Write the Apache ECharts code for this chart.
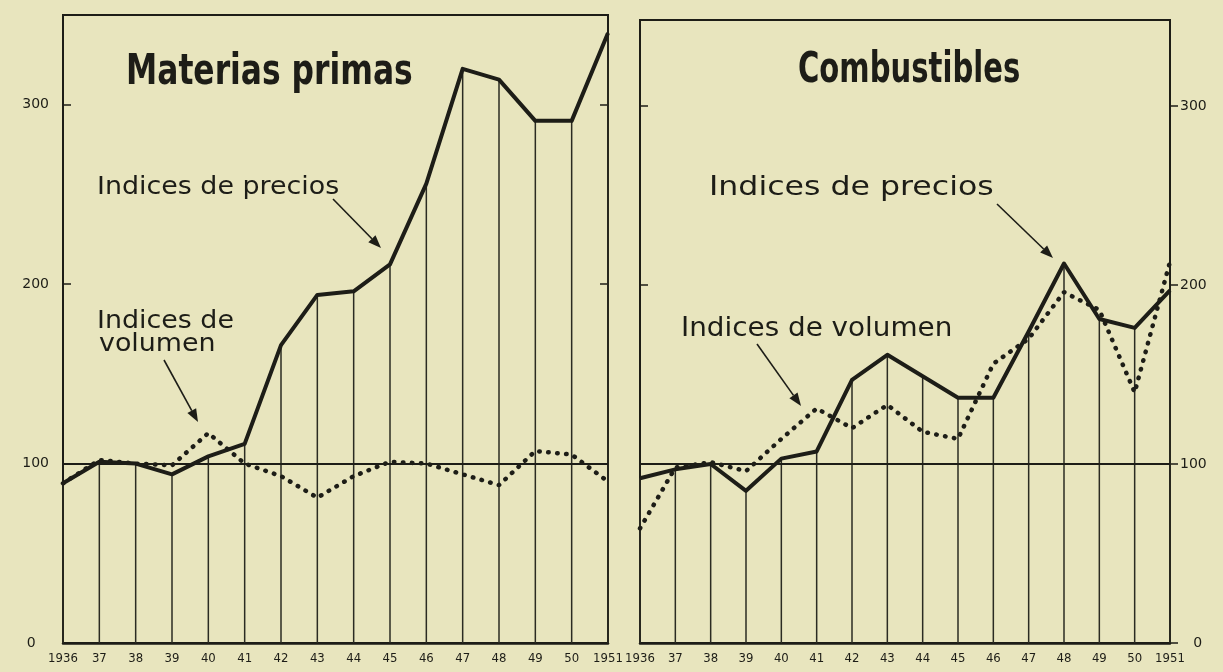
<!DOCTYPE html>
<html>
<head>
<meta charset="utf-8">
<title>Materias primas / Combustibles</title>
<script src="https://cdn.jsdelivr.net/npm/echarts@6/dist/echarts.min.js"></script>
<style>
html, body { margin: 0; padding: 0; background: #e8e5be; }
#main { width: 1223px; height: 672px; }
</style>
</head>
<body>
<div id="main"></div>
<script>
// datos (indices, 1936-37 = 100)
var years = ['1936', '37', '38', '39', '40', '41', '42', '43', '44', '45', '46', '47', '48', '49', '50', '1951'];
var mpPrecios = [89, 101, 100, 94, 104, 111, 166, 194, 196, 211, 256, 320, 314, 291, 291, 340];
var mpVolumen = [89, 102, 100, 99, 117, 100, 93, 81, 93, 101, 100, 94, 88, 107, 105, 90];
var coPrecios = [92, 97, 100, 85, 103, 107, 147, 161, 149, 137, 137, 174, 212, 181, 176, 197];
var coVolumen = [64, 98, 101, 96, 114, 131, 120, 133, 118, 114, 156, 170, 196, 186, 140, 213];
var yTicks = [100, 200, 300];

var ink = '#1d1d17';
var bg = '#e8e5be';
var titleFont = "bold 42px 'DejaVu Sans Condensed', 'DejaVu Sans', sans-serif";
var noteFont = "'DejaVu Sans', sans-serif";

var myChart = echarts.init(document.getElementById('main'));

function yAxisDef(gridIndex, position, showLabel, tickInside, max) {
	return {
		type: 'value',
		gridIndex: gridIndex,
		position: position,
		min: 0,
		max: max,
		interval: 100,
		axisLine: { show: false },
		splitLine: { show: false },
		axisTick: {
			show: true,
			inside: tickInside,
			length: 8,
			lineStyle: { color: ink, width: 1.5 }
		},
		axisLabel: {
			show: showLabel,
			showMaxLabel: false,
			margin: position == 'left' ? 14 : 10,
			color: ink,
			fontFamily: noteFont,
			fontSize: 14,
			formatter: function (v) {
				if (v === 0) return position == 'left' ? '0   ' : '   0';
				return yTicks.indexOf(v) >= 0 ? String(v) : '';
			}
		}
	};
}

function xAxisDef(gridIndex) {
	return {
		type: 'category',
		gridIndex: gridIndex,
		data: years,
		boundaryGap: false,
		axisLine: { show: true, lineStyle: { color: ink, width: 2.5 } },
		axisTick: { show: false },
		splitLine: { show: false },
		axisLabel: {
			interval: 0,
			margin: 9,
			color: ink,
			fontFamily: "'DejaVu Sans Condensed', sans-serif",
			fontSize: 13
		}
	};
}

// barras finas = lineas verticales de cada año hasta la curva de precios
function dropLines(xi, yi, data) {
	return {
		type: 'bar',
		xAxisIndex: xi,
		yAxisIndex: yi,
		data: data,
		barWidth: 1.5,
		silent: true,
		itemStyle: { color: '#2b2b22' },
		z: 1
	};
}

function precios(xi, yi, data) {
	return {
		name: 'Indices de precios',
		type: 'line',
		xAxisIndex: xi,
		yAxisIndex: yi,
		data: data,
		symbol: 'none',
		silent: true,
		lineStyle: { color: ink, width: 4, join: 'round' },
		markLine: {
			silent: true,
			symbol: 'none',
			label: { show: false },
			lineStyle: { color: ink, width: 2, type: 'solid' },
			data: [{ yAxis: 100 }]
		},
		z: 3
	};
}

function volumen(xi, yi, data) {
	return {
		name: 'Indices de volumen',
		type: 'line',
		xAxisIndex: xi,
		yAxisIndex: yi,
		data: data,
		symbol: 'none',
		silent: true,
		lineStyle: { color: ink, width: 4.5, type: [0.5, 8.5], cap: 'round' },
		z: 4
	};
}

// flecha de anotacion
function arrow(x1, y1, x2, y2) {
	var a = Math.atan2(y2 - y1, x2 - x1);
	var L = 13, W = 5;
	var bx = x2 - L * Math.cos(a), by = y2 - L * Math.sin(a);
	return [
		{ type: 'line', silent: true, shape: { x1: x1, y1: y1, x2: bx, y2: by }, style: { stroke: ink, lineWidth: 1.6 } },
		{ type: 'polygon', silent: true, shape: { points: [
			[x2, y2],
			[bx + W * Math.sin(a), by - W * Math.cos(a)],
			[bx - W * Math.sin(a), by + W * Math.cos(a)]
		] }, style: { fill: ink } }
	];
}

function note(text, x, y, size, sx) {
	return {
		type: 'text', silent: true, x: x, y: y, scaleX: sx,
		style: { text: text, fill: ink, font: size + 'px ' + noteFont, textAlign: 'left', textVerticalAlign: 'middle' }
	};
}

function title(text, x, y, sx) {
	return {
		type: 'text', silent: true, x: x, y: y, scaleX: sx,
		style: { text: text, fill: ink, font: titleFont, textAlign: 'left', textVerticalAlign: 'middle' }
	};
}

var graphics = [
	title('Materias primas', 126, 73, 0.83),
	title('Combustibles', 798, 71, 0.77),
	note('Indices de precios', 97, 188, 24, 1.12),
	note('Indices de', 97, 322, 24, 1.12),
	note('volumen', 99, 345, 24, 1.12),
	note('Indices de precios', 709, 188, 27, 1.17),
	note('Indices de volumen', 681, 329, 26, 1.07)
].concat(arrow(333, 199, 381, 248))
 .concat(arrow(164, 360, 198, 422))
 .concat(arrow(997, 204, 1053, 258))
 .concat(arrow(757, 344, 801, 406));

var option = {
	backgroundColor: bg,
	animation: false,
	grid: [
		{ left: 63, right: 615, top: 15, bottom: 29, show: true, borderColor: ink, borderWidth: 2, backgroundColor: 'transparent', outerBoundsMode: 'none' },
		{ left: 640, right: 53, top: 20, bottom: 29, show: true, borderColor: ink, borderWidth: 2, backgroundColor: 'transparent', outerBoundsMode: 'none' }
	],
	xAxis: [xAxisDef(0), xAxisDef(1)],
	yAxis: [
		yAxisDef(0, 'left', true, true, 350),
		yAxisDef(0, 'right', false, true, 350),
		yAxisDef(1, 'left', false, true, 348),
		yAxisDef(1, 'right', true, false, 348)
	],
	series: [
		dropLines(0, 0, mpPrecios),
		precios(0, 0, mpPrecios),
		volumen(0, 0, mpVolumen),
		dropLines(1, 2, coPrecios),
		precios(1, 2, coPrecios),
		volumen(1, 2, coVolumen)
	],
	graphic: graphics
};

myChart.setOption(option);

window.addEventListener('resize', function () {
	myChart.resize();
});
</script>
</body>
</html>
